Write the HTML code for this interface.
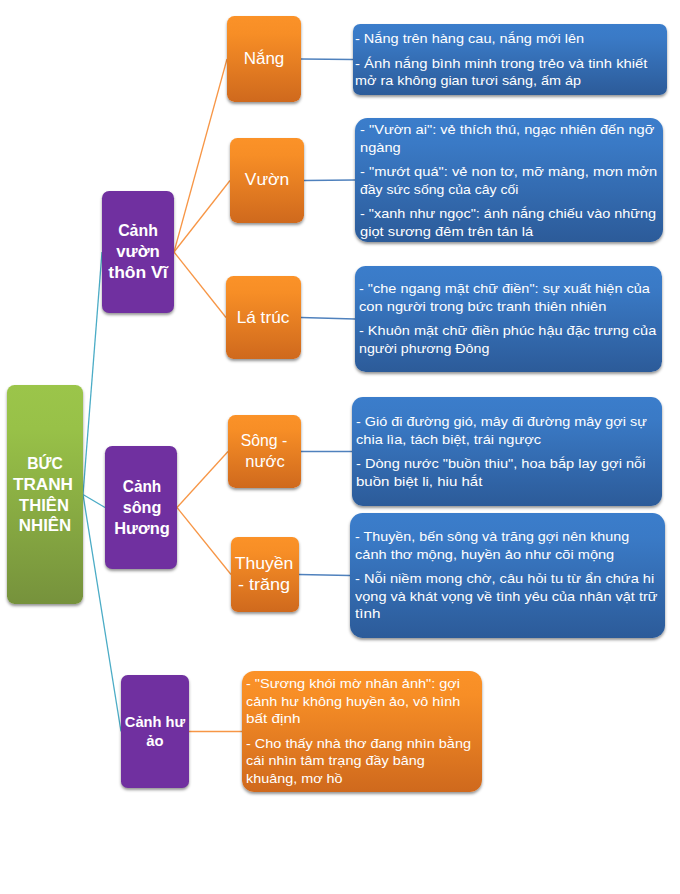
<!DOCTYPE html><html><head><meta charset="utf-8"><style>
html,body{margin:0;padding:0;background:#fff;width:680px;height:894px;overflow:hidden;position:relative;}
.b{position:absolute;box-sizing:border-box;box-shadow:0 2px 3px rgba(0,0,0,0.42);}
.t{position:absolute;white-space:nowrap;line-height:0;color:#fff;font-family:"Liberation Sans", sans-serif;}
</style></head><body>
<svg width="680" height="894" style="position:absolute;left:0;top:0"><line x1="83.0" y1="494.5" x2="102.0" y2="252.0" stroke="#4BACC6" stroke-width="1.3"/><line x1="83.0" y1="494.5" x2="105.0" y2="507.5" stroke="#4BACC6" stroke-width="1.3"/><line x1="83.0" y1="494.5" x2="121.0" y2="731.5" stroke="#4BACC6" stroke-width="1.3"/><line x1="174.0" y1="252.0" x2="227.0" y2="59.0" stroke="#F79646" stroke-width="1.3"/><line x1="174.0" y1="252.0" x2="230.0" y2="180.5" stroke="#F79646" stroke-width="1.3"/><line x1="174.0" y1="252.0" x2="226.0" y2="317.5" stroke="#F79646" stroke-width="1.3"/><line x1="177.0" y1="507.5" x2="228.0" y2="451.5" stroke="#F79646" stroke-width="1.3"/><line x1="177.0" y1="507.5" x2="231.0" y2="574.5" stroke="#F79646" stroke-width="1.3"/><line x1="189.0" y1="731.5" x2="242.0" y2="731.5" stroke="#F79646" stroke-width="1.3"/><line x1="301.0" y1="59.0" x2="353.0" y2="59.5" stroke="#4F81BD" stroke-width="1.3"/><line x1="304.0" y1="180.5" x2="355.0" y2="180.0" stroke="#4F81BD" stroke-width="1.3"/><line x1="301.0" y1="317.5" x2="355.0" y2="319.0" stroke="#4F81BD" stroke-width="1.3"/><line x1="301.0" y1="451.5" x2="352.0" y2="451.5" stroke="#4F81BD" stroke-width="1.3"/><line x1="299.0" y1="574.5" x2="350.0" y2="575.5" stroke="#4F81BD" stroke-width="1.3"/></svg>
<div class="b" style="left:7px;top:385px;width:76px;height:219px;border-radius:7.6px;background:linear-gradient(to bottom, rgb(155,197,74) 0%, rgb(152,193,72) 20%, rgb(118,146,60) 100%)"></div>
<div class="b" style="left:102px;top:191px;width:72px;height:122px;border-radius:7.2px;background:rgb(112,48,160)"></div>
<div class="b" style="left:105px;top:446px;width:72px;height:123px;border-radius:7.2px;background:rgb(112,48,160)"></div>
<div class="b" style="left:121px;top:675px;width:68px;height:113px;border-radius:6.8px;background:rgb(112,48,160)"></div>
<div class="b" style="left:227px;top:16px;width:74px;height:86px;border-radius:7.4px;background:linear-gradient(to bottom, rgb(251,146,40) 0%, rgb(247,142,38) 20%, rgb(207,105,29) 100%)"></div>
<div class="b" style="left:230px;top:138px;width:74px;height:85px;border-radius:7.4px;background:linear-gradient(to bottom, rgb(251,146,40) 0%, rgb(247,142,38) 20%, rgb(207,105,29) 100%)"></div>
<div class="b" style="left:226px;top:276px;width:75px;height:83px;border-radius:7.5px;background:linear-gradient(to bottom, rgb(251,146,40) 0%, rgb(247,142,38) 20%, rgb(207,105,29) 100%)"></div>
<div class="b" style="left:228px;top:415px;width:73px;height:73px;border-radius:7.3px;background:linear-gradient(to bottom, rgb(251,146,40) 0%, rgb(247,142,38) 20%, rgb(207,105,29) 100%)"></div>
<div class="b" style="left:231px;top:537px;width:68px;height:75px;border-radius:6.8px;background:linear-gradient(to bottom, rgb(251,146,40) 0%, rgb(247,142,38) 20%, rgb(207,105,29) 100%)"></div>
<div class="b" style="left:353px;top:24px;width:314px;height:71px;border-radius:7.1px;background:linear-gradient(to bottom, rgb(59,125,203) 0%, rgb(58,122,198) 20%, rgb(44,91,153) 100%)"></div>
<div class="b" style="left:355px;top:118px;width:308px;height:124px;border-radius:12.4px;background:linear-gradient(to bottom, rgb(59,125,203) 0%, rgb(58,122,198) 20%, rgb(44,91,153) 100%)"></div>
<div class="b" style="left:355px;top:266px;width:307px;height:106px;border-radius:10.6px;background:linear-gradient(to bottom, rgb(59,125,203) 0%, rgb(58,122,198) 20%, rgb(44,91,153) 100%)"></div>
<div class="b" style="left:352px;top:397px;width:310px;height:109px;border-radius:10.9px;background:linear-gradient(to bottom, rgb(59,125,203) 0%, rgb(58,122,198) 20%, rgb(44,91,153) 100%)"></div>
<div class="b" style="left:350px;top:513px;width:315px;height:125px;border-radius:12.5px;background:linear-gradient(to bottom, rgb(59,125,203) 0%, rgb(58,122,198) 20%, rgb(44,91,153) 100%)"></div>
<div class="b" style="left:242px;top:671px;width:240px;height:121px;border-radius:12.1px;background:linear-gradient(to bottom, rgb(251,146,40) 0%, rgb(247,142,38) 20%, rgb(207,105,29) 100%)"></div>
<div class="t" id="t0" style="left:44.50px;top:464.00px;font-size:16.00px;font-weight:700;transform:translateX(-50%) scaleX(0.9770);">BỨC</div>
<div class="t" id="t1" style="left:42.50px;top:485.00px;font-size:16.00px;font-weight:700;transform:translateX(-50%) scaleX(1.0719);">TRANH</div>
<div class="t" id="t2" style="left:43.50px;top:506.00px;font-size:16.00px;font-weight:700;transform:translateX(-50%) scaleX(1.0368);">THIÊN</div>
<div class="t" id="t3" style="left:45.00px;top:526.00px;font-size:16.00px;font-weight:700;transform:translateX(-50%) scaleX(1.0524);">NHIÊN</div>
<div class="t" id="t4" style="left:138.00px;top:230.00px;font-size:16.50px;font-weight:700;transform:translateX(-50%) scaleX(0.9632);">Cảnh</div>
<div class="t" id="t5" style="left:138.00px;top:251.00px;font-size:16.50px;font-weight:700;transform:translateX(-50%) scaleX(1.0160);">vườn</div>
<div class="t" id="t6" style="left:138.00px;top:272.00px;font-size:16.50px;font-weight:700;transform:translateX(-50%) scaleX(1.0609);">thôn Vĩ</div>
<div class="t" id="t7" style="left:141.50px;top:486.00px;font-size:16.50px;font-weight:700;transform:translateX(-50%) scaleX(0.9318);">Cảnh</div>
<div class="t" id="t8" style="left:141.50px;top:507.00px;font-size:16.50px;font-weight:700;transform:translateX(-50%) scaleX(0.9814);">sông</div>
<div class="t" id="t9" style="left:141.50px;top:528.00px;font-size:16.50px;font-weight:700;transform:translateX(-50%) scaleX(0.9946);">Hương</div>
<div class="t" id="t10" style="left:155.00px;top:722.00px;font-size:14.50px;font-weight:700;transform:translateX(-50%) scaleX(1.0117);">Cảnh hư</div>
<div class="t" id="t11" style="left:155.30px;top:741.00px;font-size:14.50px;font-weight:700;transform:translateX(-50%) scaleX(1.0204);">ảo</div>
<div class="t" id="t12" style="left:263.50px;top:58.00px;font-size:16.50px;font-weight:400;transform:translateX(-50%) scaleX(1.0300);">Nắng</div>
<div class="t" id="t13" style="left:266.85px;top:179.00px;font-size:16.50px;font-weight:400;transform:translateX(-50%) scaleX(1.0567);">Vườn</div>
<div class="t" id="t14" style="left:262.50px;top:317.00px;font-size:16.50px;font-weight:400;transform:translateX(-50%) scaleX(1.0446);">Lá trúc</div>
<div class="t" id="t15" style="left:264.00px;top:440.00px;font-size:16.50px;font-weight:400;transform:translateX(-50%) scaleX(0.9580);">Sông -</div>
<div class="t" id="t16" style="left:264.50px;top:461.00px;font-size:16.50px;font-weight:400;transform:translateX(-50%) scaleX(1.0033);">nước</div>
<div class="t" id="t17" style="left:264.20px;top:563.00px;font-size:16.50px;font-weight:400;transform:translateX(-50%) scaleX(1.0670);">Thuyền</div>
<div class="t" id="t18" style="left:264.00px;top:584.00px;font-size:16.50px;font-weight:400;transform:translateX(-50%) scaleX(1.0927);">- trăng</div>
<div class="t" id="t19" style="left:354.75px;top:39.00px;font-size:13.50px;font-weight:400;transform-origin:0 0;transform:scaleX(1.0759);">- Nắng trên hàng cau, nắng mới lên</div>
<div class="t" id="t20" style="left:354.73px;top:64.00px;font-size:13.50px;font-weight:400;transform-origin:0 0;transform:scaleX(1.0978);">- Ánh nắng bình minh trong trẻo và tinh khiết</div>
<div class="t" id="t21" style="left:354.56px;top:81.00px;font-size:13.50px;font-weight:400;transform-origin:0 0;transform:scaleX(1.0659);">mở ra không gian tươi sáng, ấm áp</div>
<div class="t" id="t22" style="left:359.57px;top:130.00px;font-size:13.50px;font-weight:400;transform-origin:0 0;transform:scaleX(1.0852);">- "Vườn ai": vẻ thích thú, ngạc nhiên đến ngỡ</div>
<div class="t" id="t23" style="left:359.57px;top:148.00px;font-size:13.50px;font-weight:400;transform-origin:0 0;transform:scaleX(1.0842);">ngàng</div>
<div class="t" id="t24" style="left:359.56px;top:172.00px;font-size:13.50px;font-weight:400;transform-origin:0 0;transform:scaleX(1.0883);">- "mướt quá": vẻ non tơ, mỡ màng, mơn mởn</div>
<div class="t" id="t25" style="left:359.59px;top:190.00px;font-size:13.50px;font-weight:400;transform-origin:0 0;transform:scaleX(1.0398);">đầy sức sống của cây cối</div>
<div class="t" id="t26" style="left:359.57px;top:214.00px;font-size:13.50px;font-weight:400;transform-origin:0 0;transform:scaleX(1.0727);">- "xanh như ngọc": ánh nắng chiếu vào những</div>
<div class="t" id="t27" style="left:359.57px;top:232.00px;font-size:13.50px;font-weight:400;transform-origin:0 0;transform:scaleX(1.0887);">giọt sương đêm trên tán lá</div>
<div class="t" id="t28" style="left:358.86px;top:289.00px;font-size:13.50px;font-weight:400;transform-origin:0 0;transform:scaleX(1.0741);">- "che ngang mặt chữ điền": sự xuất hiện của</div>
<div class="t" id="t29" style="left:358.86px;top:307.00px;font-size:13.50px;font-weight:400;transform-origin:0 0;transform:scaleX(1.0885);">con người trong bức tranh thiên nhiên</div>
<div class="t" id="t30" style="left:359.26px;top:331.00px;font-size:13.50px;font-weight:400;transform-origin:0 0;transform:scaleX(1.0761);">- Khuôn mặt chữ điền phúc hậu đặc trưng của</div>
<div class="t" id="t31" style="left:358.88px;top:349.00px;font-size:13.50px;font-weight:400;transform-origin:0 0;transform:scaleX(1.0542);">người phương Đông</div>
<div class="t" id="t32" style="left:356.15px;top:422.00px;font-size:13.50px;font-weight:400;transform-origin:0 0;transform:scaleX(1.0662);">- Gió đi đường gió, mây đi đường mây gợi sự</div>
<div class="t" id="t33" style="left:356.14px;top:440.00px;font-size:13.50px;font-weight:400;transform-origin:0 0;transform:scaleX(1.0824);">chia lìa, tách biệt, trái ngược</div>
<div class="t" id="t34" style="left:356.34px;top:464.00px;font-size:13.50px;font-weight:400;transform-origin:0 0;transform:scaleX(1.0820);">- Dòng nước "buồn thiu", hoa bắp lay gợi nỗi</div>
<div class="t" id="t35" style="left:356.12px;top:482.00px;font-size:13.50px;font-weight:400;transform-origin:0 0;transform:scaleX(1.1151);">buồn biệt li, hiu hắt</div>
<div class="t" id="t36" style="left:355.04px;top:537.00px;font-size:13.50px;font-weight:400;transform-origin:0 0;transform:scaleX(1.0607);">- Thuyền, bến sông và trăng gợi nên khung</div>
<div class="t" id="t37" style="left:354.62px;top:555.00px;font-size:13.50px;font-weight:400;transform-origin:0 0;transform:scaleX(1.0799);">cảnh thơ mộng, huyền ảo như cõi mộng</div>
<div class="t" id="t38" style="left:354.62px;top:579.00px;font-size:13.50px;font-weight:400;transform-origin:0 0;transform:scaleX(1.0839);">- Nỗi niềm mong chờ, câu hỏi tu từ ẩn chứa hi</div>
<div class="t" id="t39" style="left:355.03px;top:597.00px;font-size:13.50px;font-weight:400;transform-origin:0 0;transform:scaleX(1.0747);">vọng và khát vọng về tình yêu của nhân vật trữ</div>
<div class="t" id="t40" style="left:354.98px;top:614.00px;font-size:13.50px;font-weight:400;transform-origin:0 0;transform:scaleX(1.1308);">tình</div>
<div class="t" id="t41" style="left:245.86px;top:684.00px;font-size:13.50px;font-weight:400;transform-origin:0 0;transform:scaleX(1.0757);">- "Sương khói mờ nhân ảnh": gợi</div>
<div class="t" id="t42" style="left:245.87px;top:702.00px;font-size:13.50px;font-weight:400;transform-origin:0 0;transform:scaleX(1.0650);">cảnh hư không huyền ảo, vô hình</div>
<div class="t" id="t43" style="left:245.84px;top:719.00px;font-size:13.50px;font-weight:400;transform-origin:0 0;transform:scaleX(1.1335);">bất định</div>
<div class="t" id="t44" style="left:245.86px;top:744.00px;font-size:13.50px;font-weight:400;transform-origin:0 0;transform:scaleX(1.0713);">- Cho thấy nhà thơ đang nhìn bằng</div>
<div class="t" id="t45" style="left:245.86px;top:761.00px;font-size:13.50px;font-weight:400;transform-origin:0 0;transform:scaleX(1.0681);">cái nhìn tâm trạng đầy bâng</div>
<div class="t" id="t46" style="left:245.87px;top:779.00px;font-size:13.50px;font-weight:400;transform-origin:0 0;transform:scaleX(1.0655);">khuâng, mơ hồ</div>
</body></html>
